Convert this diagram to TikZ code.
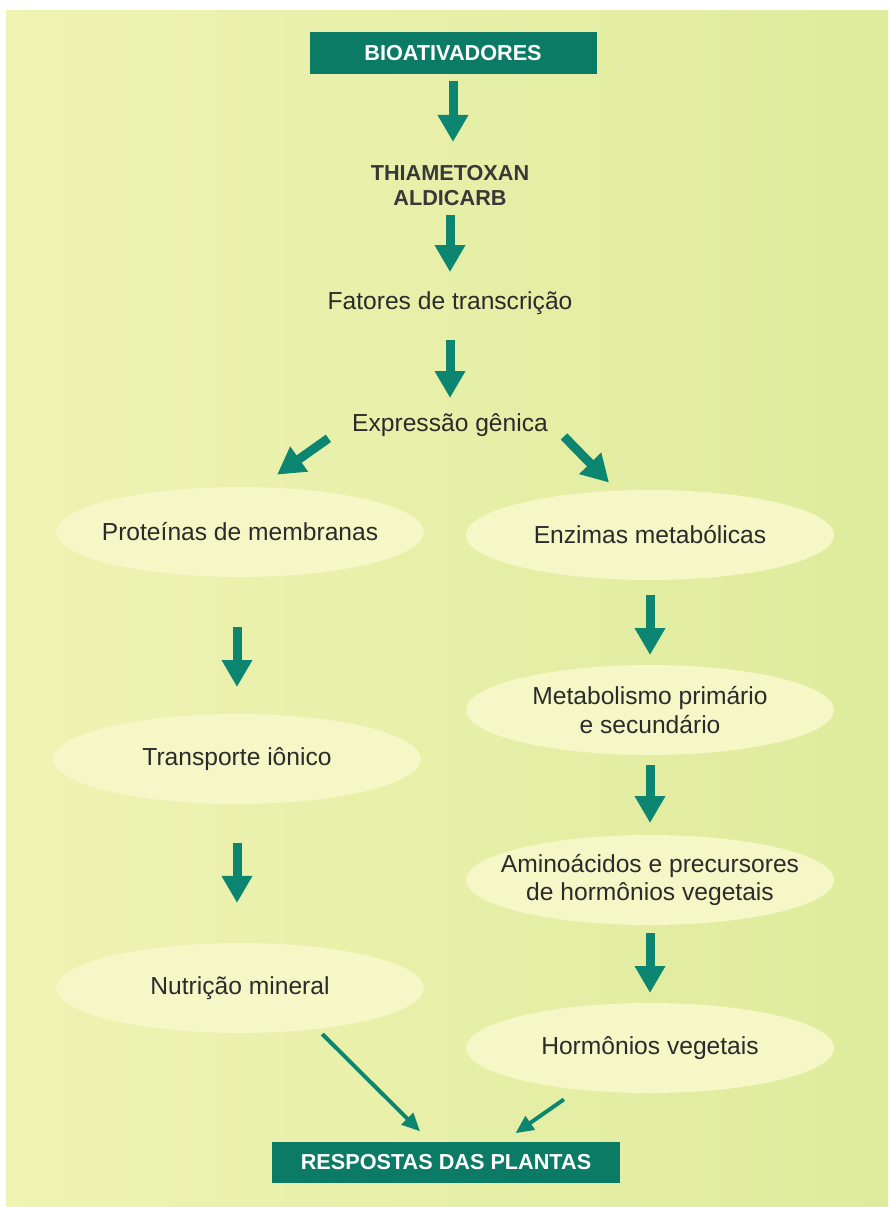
\documentclass[tikz,border=0pt]{standalone}
\usepackage{fontspec}
\setmainfont{Liberation Sans}
\usepackage{tikz}
\usetikzlibrary{arrows.meta,shapes.geometric,calc}
\definecolor{boxteal}{HTML}{0B7B66}
\definecolor{arrowteal}{HTML}{0C8670}
\definecolor{bgleft}{HTML}{EFF3B3}
\definecolor{bgright}{HTML}{DEEB9C}
\definecolor{ovalfill}{HTML}{F5F7C6}
\definecolor{textgray}{HTML}{2B2B2B}
\newdimen\pxu
\pxu=0.025cm

\begin{document}
\begin{tikzpicture}[x=0.025cm, y=-0.025cm,
    every node/.style={font=\fontsize{17.5}{20.5}\selectfont, text=textgray},
    headbox/.style={rectangle, fill=boxteal, minimum width=287\pxu, minimum height=42\pxu,
        text=white, font=\fontsize{15.4}{18}\selectfont\bfseries},
    oval/.style={ellipse, fill=ovalfill, inner sep=0pt, minimum width=368\pxu, minimum height=90\pxu,
        label={[align=center, font=\fontsize{17.5}{20}\selectfont, text=textgray]center:#1}},
    flow/.style={draw=arrowteal, line width=6.4pt,
        -{Triangle[width=20.6pt, length=19.2pt]}},
    thinflow/.style={draw=arrowteal, line width=2.8pt,
        -{Triangle[width=11.4pt, length=12.8pt]}}]

    % page and background
    \fill[bgright] (0,0) rectangle (888,1207);
    \useasboundingbox (0,0) rectangle (888,1207);
    \shade[left color=bgleft, right color=bgright] (6,10) rectangle (888,1207);
    \fill[white] (0,0) rectangle (6,1207);
    \fill[white] (0,0) rectangle (888,10);

    % top chain
    \node[headbox] (bio) at (453,53) {BIOATIVADORES};
    \node[align=center, font=\fontsize{15.4}{17.8}\selectfont\bfseries, text=black!78] (thia) at (450,186) {THIAMETOXAN\\ALDICARB};
    \node (fat) at (450,303) {Fatores de transcrição};
    \node (exp) at (450,425) {Expressão gênica};

    % left column
    \node[oval={Proteínas de membranas}] (prot) at (240,532) {};
    \node[oval={Transporte iônico}] (transp) at (237,759) {};
    \node[oval={Nutrição mineral}] (nutr) at (240,988) {};

    % right column
    \node[oval={Enzimas metabólicas}] (enz) at (650,535) {};
    \node[oval={Metabolismo primário\\e secundário}] (metab) at (650,710) {};
    \node[oval={Aminoácidos e precursores\\de hormônios vegetais}] (amino) at (650,880) {};
    \node[oval={Hormônios vegetais}] (horm) at (650,1048) {};

    % result
    \node[headbox, minimum width=348\pxu, minimum height=41\pxu] (resp) at (446,1162) {RESPOSTAS DAS PLANTAS};

    % arrows, main chain
    \draw[flow, shorten <=19.9pt, shorten >=31.3pt] (bio.center) -- (bio.center |- thia.center);
    \draw[flow, shorten <=20.6pt, shorten >=22pt] (thia.center) -- (thia.center |- fat.center);
    \draw[flow, shorten <=26.3pt, shorten >=19.2pt] (fat.center) -- (fat.center |- exp.center);

    % split
    \draw[flow, shorten <=16.4pt, shorten >=14.9pt] (exp.west) -- ([xshift=20\pxu]prot.north);
    \draw[flow, shorten <=11.4pt, shorten >=7.1pt] (exp.east) -- ([xshift=-34\pxu]enz.north);

    % left column arrows
    \draw[flow, shorten <=67.6pt, shorten >=51.2pt] (transp.center |- prot.center) -- (transp.center);
    \draw[flow, shorten <=59.7pt, shorten >=60.5pt] (transp.center) -- (transp.center |- nutr.center);

    % right column arrows
    \draw[flow, shorten <=42.7pt, shorten >=39.1pt] (enz.center) -- (enz.center |- metab.center);
    \draw[flow, shorten <=39.1pt, shorten >=40.5pt] (metab.center) -- (metab.center |- amino.center);
    \draw[flow, shorten <=37.7pt, shorten >=39.1pt] (amino.center) -- (amino.center |- horm.center);

    % into the responses
    \draw[thinflow, shorten <=5pt, shorten >=10pt] (nutr.-28) -- ([xshift=-16\pxu]resp.north);
    \draw[thinflow, shorten <=12.1pt, shorten >=10pt] (horm.-150) -- ([xshift=58\pxu]resp.north);

\end{tikzpicture}
\end{document}
